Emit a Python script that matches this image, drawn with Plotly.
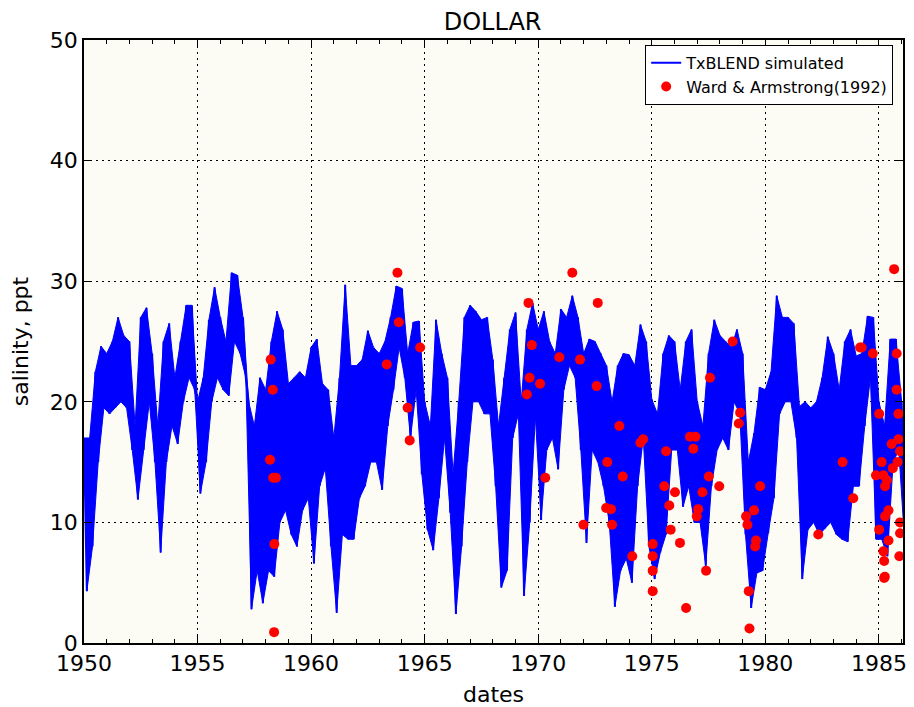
import numpy as np
import plotly.graph_objects as go

# TxBLEND simulated salinity, read per quarter as upper / lower edge of the band
sal_hi = [
    17, 17, 22.5, 24.6,    # 1950
    24, 25, 27, 25.5,      # 1951
    25, 18, 27, 27.8,      # 1952
    24, 18, 25, 26.5,      # 1953
    22, 25, 28, 28,        # 1954
    20, 22, 26.8, 29.5,    # 1955
    27, 25, 30.7, 30.5,    # 1956
    27, 20, 18, 22,        # 1957
    21, 25, 27.5, 26,      # 1958
    21.5, 22, 22.5, 22,    # 1959
    24.5, 25.2, 21.5, 21,  # 1960
    17, 22, 29.7, 23,      # 1961
    23, 23.5, 25.9, 24.5,  # 1962
    24, 25, 27, 29.6,      # 1963
    29.4, 24, 26.6, 26.7,  # 1964
    20, 18, 26.8, 24,      # 1965
    22, 14, 20, 27,        # 1966
    28, 27.5, 26.8, 27,    # 1967
    23.5, 18, 22, 26,      # 1968
    27.4, 20, 26, 28.2,    # 1969
    26, 27.5, 25, 24,      # 1970
    27.7, 27, 28.8, 27,    # 1971
    24, 25.2, 25, 24,      # 1972
    23, 20, 23, 24,        # 1973
    23.9, 23, 26.4, 25,    # 1974
    20.2, 19, 24, 25.5,    # 1975
    25, 21, 25, 26,        # 1976
    20, 18, 24, 26.8,      # 1977
    25.5, 25, 24.5, 26,    # 1978
    24, 15, 17.4, 21.2,    # 1979
    21, 22.5, 28.8, 27,    # 1980
    27, 26.5, 19.6, 20,    # 1981
    19.5, 20, 22, 25.4,    # 1982
    24, 21, 25, 26,        # 1983
    23.8, 24, 27.1, 27,    # 1984
    20, 18, 25.2, 25.2,    # 1985
    20,                    # 1986
]
sal_lo = [
    4.3, 8, 15, 19.5,
    19, 19.5, 20, 19.5,
    16, 11.9, 16, 20,
    15, 7.5, 15, 18,
    16.5, 20, 22, 21,
    12.4, 15, 20, 22,
    21, 20.5, 25, 24,
    22, 2.8, 6, 3.3,
    6, 5.5, 10, 11,
    9, 8, 11, 12,
    6.6, 13, 14.5, 8,
    2.5, 9, 8.6, 8.6,
    12, 13, 15, 15,
    12.7, 18, 21, 24.5,
    22, 17, 21, 14,
    9.4, 7.7, 12, 17,
    10.8, 2.4, 8, 15,
    20, 20, 19, 19,
    13, 4.6, 6, 17,
    19, 3.9, 10, 18.8,
    10.2, 16, 17, 14.4,
    21, 23, 22, 16,
    8.3, 16, 15, 13,
    10, 3.0, 6, 7,
    5, 13, 17, 8,
    5.3, 7.5, 9, 16,
    16, 11.3, 13, 10,
    10, 6.4, 13, 16,
    17, 16, 20, 19,
    9, 2.9, 5.8, 6,
    9.1, 12, 19, 20,
    20, 17, 5.3, 9.4,
    10, 9, 9.5, 10,
    9, 8.6, 8.4, 13,
    13, 18, 22, 8.6,
    8.6, 7.2, 15, 16,
    8.6,
]

# Ward & Armstrong (1992) observations
obs_year = [
    1958.22, 1958.31, 1958.19, 1958.33, 1958.45, 1958.38, 1958.37,
    1963.33, 1963.80, 1963.86, 1964.25, 1964.34, 1964.80,
    1969.50, 1969.57, 1969.62, 1969.72, 1970.08, 1970.31, 1970.93,
    1971.50, 1971.84, 1971.99, 1972.57, 1972.62, 1972.99, 1973.04,
    1973.20, 1973.25, 1973.57, 1973.72, 1974.14, 1974.50, 1974.62,
    1975.04, 1975.04, 1975.04, 1975.04, 1975.55, 1975.63, 1975.77,
    1975.83, 1976.02, 1976.24, 1976.51, 1976.68, 1976.83, 1976.92,
    1976.98, 1977.04, 1977.23, 1977.39, 1977.51, 1977.56, 1977.97,
    1978.56, 1978.83, 1978.89, 1979.15, 1979.21, 1979.27, 1979.30,
    1979.50, 1979.55, 1979.59, 1979.77,
    1982.33, 1983.40, 1983.87, 1984.17, 1984.24, 1984.73, 1984.87,
    1985.01, 1985.01, 1985.12, 1985.20, 1985.20, 1985.23, 1985.23,
    1985.26, 1985.27, 1985.27, 1985.35, 1985.42, 1985.42, 1985.56,
    1985.61, 1985.67, 1985.78, 1985.78, 1985.82, 1985.86, 1985.86,
    1985.90, 1985.93, 1985.93, 1985.93,
]
obs_sal = [
    23.5, 21.0, 15.2, 13.7, 13.7, 8.2, 0.9,
    23.1, 30.7, 26.6, 19.5, 16.8, 24.5,
    20.6, 28.2, 22.0, 24.7, 21.5, 13.7, 23.7,
    30.7, 23.5, 9.8, 21.3, 28.2, 11.2, 15.0,
    11.1, 9.8, 18.0, 13.8, 7.2, 16.6, 16.9,
    8.2, 7.2, 6.0, 4.3, 13.0, 15.9, 11.4,
    9.4, 12.5, 8.3, 2.9, 17.1, 16.1, 17.1,
    10.5, 11.1, 12.5, 6.0, 13.8, 22.0, 13.0,
    25.0, 18.2, 19.1, 10.5, 9.8, 4.3, 1.2,
    11.0, 8.0, 8.5, 13.0,
    9.0, 15.0, 12.0, 24.5, 24.5, 24.0, 13.9,
    19.0, 9.4, 15.0, 13.9, 7.6, 6.8, 5.4,
    5.5, 13.0, 10.5, 13.5, 11.0, 8.5, 16.5,
    14.5, 31.0, 24.0, 21.0, 15.0, 19.0, 16.9,
    7.2, 15.9, 10.0, 9.1,
]

year_ticks = [1950, 1955, 1960, 1965, 1970, 1975, 1980, 1985]

# upper edge at the start of each quarter, lower edge mid-quarter
q_start = 1950 + 0.25 * np.arange(len(sal_hi))
x_hi = q_start
x_lo = q_start + 0.125
x_line = np.column_stack([x_hi, x_lo]).ravel()
y_line = np.column_stack([sal_hi, sal_lo]).ravel()

fig = go.Figure()
# dense daily oscillation shows as a filled band
fig.add_trace(go.Scatter(x=x_lo, y=sal_lo, mode='lines', line=dict(color='#0000ff', width=1),
                         showlegend=False, hoverinfo='skip'))
fig.add_trace(go.Scatter(x=x_hi, y=sal_hi, mode='lines', line=dict(color='#0000ff', width=1),
                         fill='tonexty', fillcolor='#0000ff', showlegend=False, hoverinfo='skip'))
fig.add_trace(go.Scatter(x=x_line, y=y_line, mode='lines', name='TxBLEND simulated',
                         line=dict(color='#0000ff', width=2)))
fig.add_trace(go.Scatter(x=obs_year, y=obs_sal, mode='markers', name='Ward & Armstrong(1992)',
                         marker=dict(color='#ff0000', size=10)))

axis_style = dict(
    showline=True, linecolor='black', linewidth=1.5, mirror='allticks',
    ticks='inside', ticklen=8, tickcolor='black', tickwidth=1,
    showgrid=True, gridcolor='black', gridwidth=1, griddash='2px,4px',
    zeroline=False, automargin=False, tickfont=dict(size=22, color='black'),
)

fig.update_layout(
    width=914, height=707,
    margin=dict(l=84, r=11, t=40, b=64),
    paper_bgcolor='white', plot_bgcolor='#fcfcf4',
    font=dict(family='DejaVu Sans', color='black'),
    title=dict(text='DOLLAR', x=0.539, xanchor='center', y=0.97, yanchor='middle',
               font=dict(size=24)),
    xaxis=dict(range=[1950, 1986.06], tickvals=year_ticks,
               title=dict(text='dates', font=dict(size=22)),
               minor=dict(dtick=1, tick0=1950, ticks='inside', ticklen=4, tickcolor='black',
                          showgrid=False),
               **axis_style),
    yaxis=dict(range=[0, 50], dtick=10,
               title=dict(text='salinity, ppt', font=dict(size=22)),
               **axis_style),
    legend=dict(x=0.988, y=0.992, xanchor='right', yanchor='top', traceorder='normal',
                bgcolor='white', bordercolor='black', borderwidth=1,
                font=dict(size=16), itemwidth=30, tracegroupgap=0),
    showlegend=True,
)

# drop the browser's default page margin so the figure sits at the window corner
fig.write_html("out.html", config={'displayModeBar': False},
               post_script="document.body.style.margin='0px';")
